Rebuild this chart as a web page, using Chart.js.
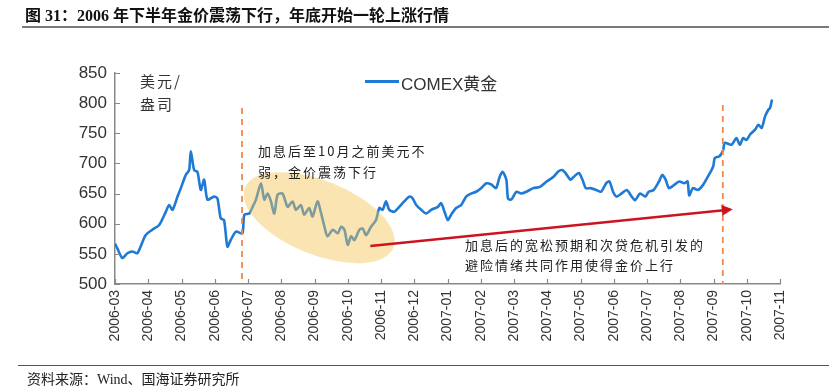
<!DOCTYPE html>
<html>
<head>
<meta charset="utf-8">
<script src="https://cdn.jsdelivr.net/npm/chart.js@4.4.0/dist/chart.umd.min.js"></script>
<style>
  body { margin: 0; background: #fff; }
  #wrap { position: relative; width: 839px; height: 387px; overflow: hidden; }
  #goldChart { position: absolute; left: 0; top: 0; }
  .txt { position: absolute; white-space: nowrap; color: #222; }
  #title { left: 25px; top: 2px; font: bold 16px "Liberation Serif", "Noto Sans CJK SC", serif; color: #111; }
  #titleRule { position: absolute; left: 22px; top: 26px; width: 807px; height: 2px; background: #7a7a7a; }
  #sourceRule { position: absolute; left: 18px; top: 365px; width: 811px; height: 1px; background: #555; }
  #source { left: 27px; top: 368px; font: 14px "Liberation Serif", "Noto Sans CJK SC", serif; }
  #unit { left: 140px; top: 69px; font: 15px "Noto Sans CJK SC", sans-serif; line-height: 23px; letter-spacing: 2px; color: #333; }
  #legendLine { position: absolute; left: 365px; top: 80px; width: 34px; height: 3px; background: #1f7ad6; }
  #legendText { left: 401px; top: 70px; font: 17px "Liberation Sans", "Noto Sans CJK SC", sans-serif; color: #333; }
  .note { font: 13px "Noto Sans CJK SC", sans-serif; letter-spacing: 2px; }
  #note1 { left: 258px; top: 140px; line-height: 21px; }
  #note2 { left: 465px; top: 235px; line-height: 20px; }
</style>
</head>
<body>
<div id="wrap">
  <canvas id="goldChart" width="839" height="387"></canvas>
  <div class="txt" id="title">图 31：2006 年下半年金价震荡下行，年底开始一轮上涨行情</div>
  <div id="titleRule"></div>
  <div class="txt" id="unit">美元/<br>盎司</div>
  <div id="legendLine"></div>
  <div class="txt" id="legendText">COMEX黄金</div>
  <div class="txt note" id="note1">加息后至10月之前美元不<br>弱，金价震荡下行</div>
  <div class="txt note" id="note2">加息后的宽松预期和次贷危机引发的<br>避险情绪共同作用使得金价上行</div>
  <div id="sourceRule"></div>
  <div class="txt" id="source">资料来源：Wind、国海证券研究所</div>
</div>
<script>
// month labels on the x axis (one tick per month)
const monthLabels = [
  "2006-03", "2006-04", "2006-05", "2006-06", "2006-07", "2006-08", "2006-09",
  "2006-10", "2006-11", "2006-12", "2007-01", "2007-02", "2007-03", "2007-04",
  "2007-05", "2007-06", "2007-07", "2007-08", "2007-09", "2007-10", "2007-11"
];
// position in months since 2006-03
const monthPos = [
  0.00, 0.07, 0.22, 0.37, 0.52, 0.67, 0.77, 0.92, 1.12, 1.33, 1.53, 1.63, 1.73, 1.88, 1.98,
  2.13, 2.23, 2.28, 2.38, 2.48, 2.58, 2.68, 2.78, 2.98, 3.08, 3.18, 3.28, 3.38, 3.48, 3.64,
  3.83, 3.89, 4.04, 4.14, 4.24, 4.39, 4.49, 4.59, 4.69, 4.79, 4.89, 5.04, 5.19, 5.34, 5.44,
  5.59, 5.69, 5.84, 5.94, 6.09, 6.20, 6.30, 6.39, 6.55, 6.70, 6.80, 6.90, 7.00, 7.10, 7.20,
  7.35, 7.45, 7.55, 7.70, 7.85, 7.95, 8.05, 8.15, 8.25, 8.40, 8.55, 8.70, 8.86, 8.95, 9.06,
  9.21, 9.36, 9.51, 9.71, 9.81, 9.91, 10.01, 10.11, 10.26, 10.41, 10.56, 10.71, 10.86, 11.01,
  11.17, 11.32, 11.46, 11.57, 11.66, 11.77, 11.82, 11.92, 12.07, 12.22, 12.37, 12.58, 12.78,
  12.98, 13.19, 13.34, 13.45, 13.55, 13.70, 13.80, 13.95, 14.06, 14.16, 14.31, 14.47, 14.62,
  14.77, 14.87, 14.98, 15.08, 15.23, 15.39, 15.54, 15.64, 15.79, 15.95, 16.05, 16.20, 16.36,
  16.46, 16.56, 16.66, 16.81, 16.97, 17.12, 17.22, 17.27, 17.38, 17.53, 17.68, 17.83, 17.99,
  18.04, 18.18, 18.29, 18.34, 18.54, 18.69, 18.79, 18.89, 18.99, 19.10, 19.25, 19.35, 19.45,
  19.55, 19.65, 19.70, 19.76
];
// COMEX gold, USD / oz
const goldPrice = [
  567, 559, 543, 551, 554, 551, 562, 581, 590, 598, 620, 631, 623, 645, 659,
  681, 689, 720, 689, 686, 656, 673, 640, 645, 642, 609, 606, 562, 573, 587,
  584, 615, 617, 628, 640, 667, 640, 650, 637, 617, 648, 650, 628, 637, 623,
  631, 615, 626, 612, 637, 617, 595, 579, 590, 584, 595, 590, 565, 579, 573,
  590, 592, 581, 595, 606, 626, 623, 637, 623, 620, 628, 637, 645, 642, 631,
  623, 617, 623, 628, 634, 620, 606, 615, 626, 631, 645, 650, 653, 659,
  667, 665, 659, 678, 686, 673, 642, 640, 653, 650, 653, 659, 661,
  670, 678, 687, 689, 684, 673, 678, 684, 673, 659, 659, 656, 653,
  667, 670, 653, 645, 650, 656, 645, 639, 650, 645, 653, 656, 670,
  681, 673, 659, 664, 670, 667, 670, 647, 659, 656, 664, 678, 695,
  709, 712, 722, 734, 731, 742, 731, 742, 739, 748, 756, 764, 759,
  778, 789, 792, 806
];
const yTicks = [500, 550, 600, 650, 700, 750, 800, 850];

// annotation anchors in data units: [month, price]
const eventLines = [[3.82, 792], [18.28, 797]];
const ellipseCenter = [6.14, 610];
const arrowFrom = [7.68, 563];
const arrowTo = [18.58, 624];

const goldData = monthPos.map((m, i) => ({ x: m, y: goldPrice[i] }));

const overlayPlugin = {
  id: "overlay",
  afterDatasetsDraw(chart) {
    const ctx = chart.ctx;
    const xs = chart.scales.x;
    const ys = chart.scales.y;
    // shaded ellipse over the slide
    ctx.save();
    ctx.fillStyle = "rgba(245,195,85,0.45)";
    ctx.beginPath();
    ctx.ellipse(xs.getPixelForValue(ellipseCenter[0]), ys.getPixelForValue(ellipseCenter[1]),
      80, 37, 22 * Math.PI / 180, 0, 2 * Math.PI);
    ctx.fill();
    ctx.restore();
    // dashed event lines
    ctx.save();
    ctx.strokeStyle = "#f0894a";
    ctx.lineWidth = 1.8;
    ctx.setLineDash([6, 5]);
    eventLines.forEach((ev) => {
      const px = xs.getPixelForValue(ev[0]);
      ctx.beginPath();
      ctx.moveTo(px, ys.getPixelForValue(ev[1]));
      ctx.lineTo(px, ys.bottom);
      ctx.stroke();
    });
    ctx.restore();
    // red arrow
    const x1 = xs.getPixelForValue(arrowFrom[0]), y1 = ys.getPixelForValue(arrowFrom[1]);
    const x2 = xs.getPixelForValue(arrowTo[0]), y2 = ys.getPixelForValue(arrowTo[1]);
    const ang = Math.atan2(y2 - y1, x2 - x1);
    ctx.save();
    ctx.strokeStyle = "#cc1421";
    ctx.fillStyle = "#cc1421";
    ctx.lineWidth = 2.5;
    ctx.beginPath();
    ctx.moveTo(x1, y1);
    ctx.lineTo(x2 - 9 * Math.cos(ang), y2 - 9 * Math.sin(ang));
    ctx.stroke();
    ctx.beginPath();
    ctx.moveTo(x2, y2);
    ctx.lineTo(x2 - 11 * Math.cos(ang) + 5.5 * Math.sin(ang), y2 - 11 * Math.sin(ang) - 5.5 * Math.cos(ang));
    ctx.lineTo(x2 - 11 * Math.cos(ang) - 5.5 * Math.sin(ang), y2 - 11 * Math.sin(ang) + 5.5 * Math.cos(ang));
    ctx.closePath();
    ctx.fill();
    ctx.restore();
  },
  afterDraw(chart) {
    // small inward tick marks on both axes
    const ctx = chart.ctx;
    const xs = chart.scales.x;
    const ys = chart.scales.y;
    ctx.save();
    ctx.strokeStyle = "#888";
    ctx.lineWidth = 1.2;
    ctx.beginPath();
    for (let i = 0; i < monthLabels.length; i++) {
      const px = Math.round(xs.getPixelForValue(i)) + 0.5;
      ctx.moveTo(px, ys.bottom);
      ctx.lineTo(px, ys.bottom - 5);
    }
    yTicks.forEach((v) => {
      const py = Math.round(ys.getPixelForValue(v)) + 0.5;
      ctx.moveTo(xs.left, py);
      ctx.lineTo(xs.left + 5, py);
    });
    ctx.stroke();
    ctx.restore();
  }
};

const ctx = document.getElementById("goldChart").getContext("2d");
const chart = new Chart(ctx, {
  type: "line",
  data: {
    datasets: [
      {
        label: "COMEX黄金",
        data: goldData,
        borderColor: "#1f7ad6",
        borderWidth: 2.6,
        pointRadius: 0,
        tension: 0.25,
        fill: false
      }
    ]
  },
  options: {
    responsive: false,
    animation: false,
    devicePixelRatio: 1,
    layout: { padding: { top: 73, right: 59, left: 0, bottom: 0 } },
    plugins: {
      legend: { display: false },
      tooltip: { enabled: false }
    },
    scales: {
      x: {
        type: "linear",
        min: 0,
        max: monthLabels.length - 1,
        grid: { display: false, drawTicks: false },
        border: { display: true, color: "#888", width: 1.5 },
        afterFit: (s) => { s.height = 103; },
        ticks: {
          stepSize: 1,
          autoSkip: false,
          maxRotation: 90,
          minRotation: 90,
          padding: 6,
          color: "#333",
          font: { family: "Liberation Sans", size: 14 },
          callback: (v) => monthLabels[v]
        }
      },
      y: {
        min: 500,
        max: 850,
        grid: { display: false, drawTicks: false },
        border: { display: true, color: "#888", width: 1.5 },
        afterFit: (s) => { s.width = 115; },
        ticks: {
          stepSize: 50,
          padding: 8,
          color: "#333",
          font: { family: "Liberation Sans", size: 17 }
        }
      }
    }
  },
  plugins: [overlayPlugin]
});
</script>
</body>
</html>
